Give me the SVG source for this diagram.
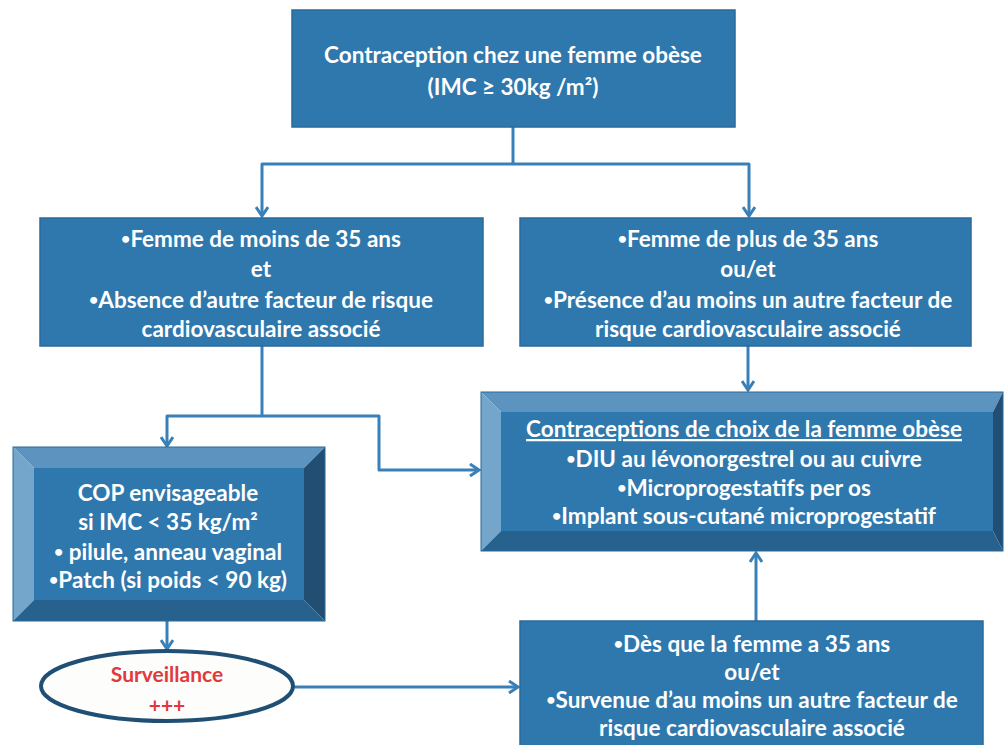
<svg xmlns="http://www.w3.org/2000/svg" width="1004" height="745" viewBox="0 0 1004 745">
<defs>
<style>
.box{fill:#2f78ad;stroke:#2a6a9a;stroke-width:1.5}
.face{fill:#2f78ad}
.bt{fill:#5d93bf}.bl{fill:#74a5cb}.br{fill:#214e72}.bb{fill:#27618e}
.t{font-family:Lato,"Open Sans",sans-serif;font-weight:bold;font-size:22.5px;fill:#ffffff;text-anchor:middle}
.red{font-family:Lato,"Open Sans",sans-serif;font-weight:bold;font-size:21px;fill:#e0393e;text-anchor:middle}
.b{font-size:16px;baseline-shift:3px}
.c{fill:none;stroke:#3a80b8;stroke-width:3;stroke-linejoin:round}
</style>
<marker id="ah" viewBox="0 0 14 14" refX="12" refY="7" markerWidth="14" markerHeight="14" markerUnits="userSpaceOnUse" orient="auto">
<path d="M3,1 L12,7 L3,13" fill="none" stroke="#3a80b8" stroke-width="3" stroke-linejoin="miter"/>
</marker>
</defs>
<rect width="1004" height="745" fill="#ffffff"/>

<g id="connectors">
<path class="c" d="M513,127 V164"/>
<path class="c" d="M513,164 H262 V216" marker-end="url(#ah)"/>
<path class="c" d="M513,164 H749 V216" marker-end="url(#ah)"/>
<path class="c" d="M262,346 V416"/>
<path class="c" d="M262,416 H167 V446" marker-end="url(#ah)"/>
<path class="c" d="M262,416 H379 V470 H479" marker-end="url(#ah)"/>
<path class="c" d="M748,346 V390" marker-end="url(#ah)"/>
<path class="c" d="M756,621 V553" marker-end="url(#ah)"/>
<path class="c" d="M167,621 V649" marker-end="url(#ah)"/>
<path class="c" d="M294,687 H518" marker-end="url(#ah)"/>
</g>

<g id="n-top">
<rect class="box" x="292" y="10" width="443" height="117"/>
<text class="t" x="513" y="63">Contraception chez une femme obèse</text>
<text class="t" x="513" y="95">(IMC ≥ 30kg /m²)</text>
</g>

<g id="n-moins35">
<rect class="box" x="40" y="218" width="443" height="128"/>
<text class="t" x="261" y="247"><tspan class="b">•</tspan>Femme de moins de 35 ans</text>
<text class="t" x="261" y="277">et</text>
<text class="t" x="261" y="308"><tspan class="b">•</tspan>Absence d’autre facteur de risque</text>
<text class="t" x="261" y="337">cardiovasculaire associé</text>
</g>

<g id="n-plus35">
<rect class="box" x="520" y="218" width="451" height="128"/>
<text class="t" x="748" y="247"><tspan class="b">•</tspan>Femme de plus de 35 ans</text>
<text class="t" x="748" y="277">ou/et</text>
<text class="t" x="748" y="308"><tspan class="b">•</tspan>Présence d’au moins un autre facteur de</text>
<text class="t" x="748" y="337">risque cardiovasculaire associé</text>
</g>

<g id="n-choix">
<polygon class="bt" points="481,392 1003,392 993,412 501,412"/>
<polygon class="bl" points="481,392 501,412 501,531 481,551"/>
<polygon class="br" points="1003,392 1003,551 993,531 993,412"/>
<polygon class="bb" points="481,551 501,531 993,531 1003,551"/>
<rect class="face" x="501" y="412" width="492" height="119"/>
<rect x="481" y="392" width="522" height="159" fill="none" stroke="#2a6a9a" stroke-width="1"/>
<text class="t" x="744" y="437" text-decoration="underline">Contraceptions de choix de la femme obèse</text>
<text class="t" x="744" y="467"><tspan class="b">•</tspan>DIU au lévonorgestrel ou au cuivre</text>
<text class="t" x="744" y="496"><tspan class="b">•</tspan>Microprogestatifs per os</text>
<text class="t" x="744" y="524"><tspan class="b">•</tspan>Implant sous-cutané microprogestatif</text>
</g>

<g id="n-cop">
<polygon class="bt" points="13,447 325,447 304,468 34,468"/>
<polygon class="bl" points="13,447 34,468 34,600 13,621"/>
<polygon class="br" points="325,447 325,621 304,600 304,468"/>
<polygon class="bb" points="13,621 34,600 304,600 325,621"/>
<rect class="face" x="34" y="468" width="270" height="132"/>
<rect x="13" y="447" width="312" height="174" fill="none" stroke="#2a6a9a" stroke-width="1"/>
<text class="t" x="168" y="501">COP envisageable</text>
<text class="t" x="168" y="530">si IMC &lt; 35 kg/m²</text>
<text class="t" x="168" y="560"><tspan class="b">•</tspan> pilule, anneau vaginal</text>
<text class="t" x="168" y="588"><tspan class="b">•</tspan>Patch (si poids &lt; 90 kg)</text>
</g>

<g id="n-surveillance">
<ellipse cx="167" cy="686" rx="126" ry="35" fill="#fdfdfb" stroke="#1f4f74" stroke-width="4"/>
<text class="red" x="167" y="682">Surveillance</text>
<text class="red" x="167" y="713">+++</text>
</g>

<g id="n-des35">
<rect class="box" x="520" y="621" width="463" height="130"/>
<text class="t" x="752" y="652"><tspan class="b">•</tspan>Dès que la femme a 35 ans</text>
<text class="t" x="752" y="680">ou/et</text>
<text class="t" x="752" y="708"><tspan class="b">•</tspan>Survenue d’au moins un autre facteur de</text>
<text class="t" x="752" y="736">risque cardiovasculaire associé</text>
</g>
</svg>
